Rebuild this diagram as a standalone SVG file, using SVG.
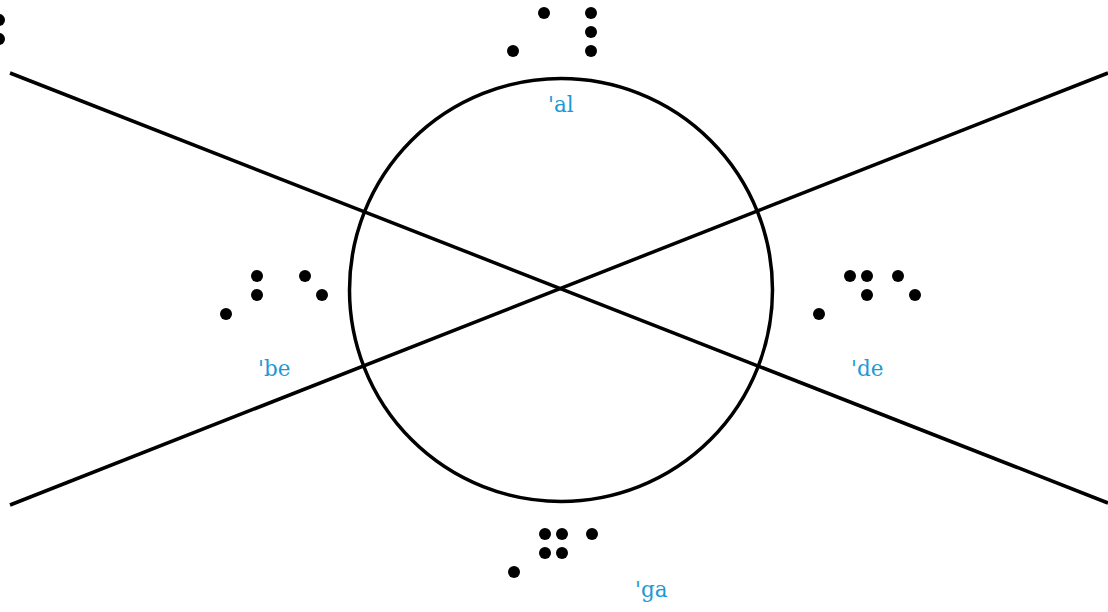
<svg xmlns="http://www.w3.org/2000/svg" width="1108" height="612" viewBox="0 0 1108 612">
<style>
.ln{stroke:#000;stroke-width:3.5;fill:none}
.d{fill:#000}
.lbl{font-family:"DejaVu Serif","Liberation Serif",serif;font-size:21.5px;fill:#1a9ad6}
</style>
<rect width="1108" height="612" fill="#fff"/>
<g id="connectors">
<line class="ln" x1="10" y1="73" x2="1108" y2="503"/>
<line class="ln" x1="10" y1="505" x2="1108" y2="73"/>
</g>
<g id="circle"><circle class="ln" cx="561" cy="290" r="211.5"/></g>
<g id="corner">
<circle class="d" cx="-1" cy="20" r="6"/><circle class="d" cx="-1" cy="39" r="6"/>
</g>
<g id="al">
<circle class="d" cx="544" cy="13" r="6"/><circle class="d" cx="591" cy="13" r="6"/>
<circle class="d" cx="591" cy="32" r="6"/><circle class="d" cx="591" cy="51" r="6"/>
<circle class="d" cx="513" cy="51" r="6"/>
<text class="lbl" x="548" y="112">'al</text>
</g>
<g id="be">
<circle class="d" cx="257" cy="276" r="6"/><circle class="d" cx="257" cy="295" r="6"/>
<circle class="d" cx="305" cy="276" r="6"/><circle class="d" cx="322" cy="295" r="6"/>
<circle class="d" cx="226" cy="314" r="6"/>
<text class="lbl" x="258" y="376">'be</text>
</g>
<g id="de">
<circle class="d" cx="850" cy="276" r="6"/><circle class="d" cx="867" cy="276" r="6"/>
<circle class="d" cx="898" cy="276" r="6"/><circle class="d" cx="867" cy="295" r="6"/>
<circle class="d" cx="915" cy="295" r="6"/><circle class="d" cx="819" cy="314" r="6"/>
<text class="lbl" x="851" y="376">'de</text>
</g>
<g id="ga">
<circle class="d" cx="545" cy="534" r="6"/><circle class="d" cx="562" cy="534" r="6"/>
<circle class="d" cx="592" cy="534" r="6"/><circle class="d" cx="545" cy="553" r="6"/>
<circle class="d" cx="562" cy="553" r="6"/><circle class="d" cx="514" cy="572" r="6"/>
<text class="lbl" x="635" y="597">'ga</text>
</g>
</svg>
